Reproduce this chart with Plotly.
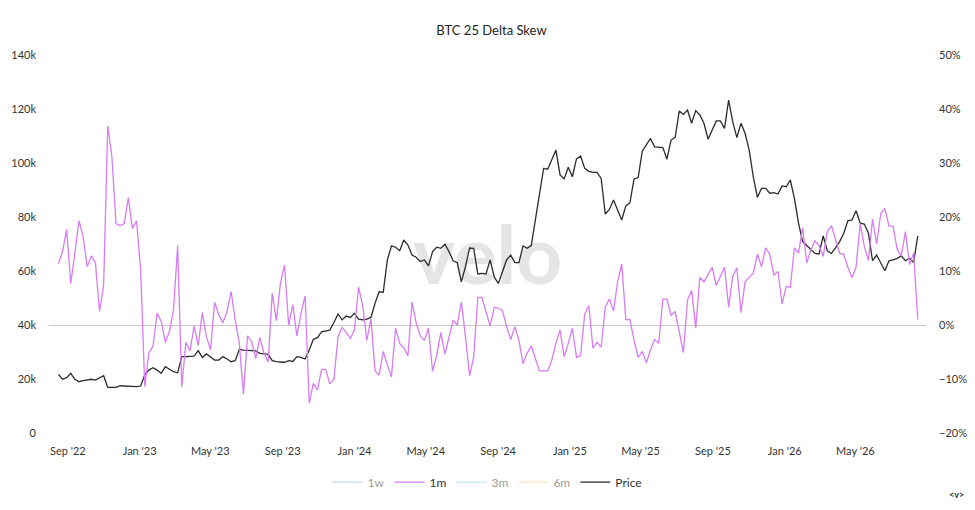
import pandas as pd
import numpy as np
import plotly.graph_objects as go

# weekly series, mid-Aug 2022 -> mid-Aug 2026
start_date = '2022-08-16'
end_date = '2026-08-15'

# BTC price, thousands of USD
price_k = [
    21.7, 19.9, 20.5, 22.1, 19.9, 19.0, 19.4, 19.6, 19.9, 19.6,
    20.5, 21.2, 16.9, 16.8, 16.9, 17.5, 17.4, 17.4, 17.3, 17.2,
    17.4, 21.5, 23.3, 24.2, 23.3, 22.1, 24.6, 23.7, 22.7, 22.3,
    28.3, 28.3, 28.5, 28.5, 30.5, 28.0, 29.3, 28.3, 27.0, 27.0,
    28.3, 27.4, 26.4, 26.8, 31.0, 30.7, 30.5, 30.5, 30.4, 29.5,
    29.3, 29.1,
    26.8, 26.4, 26.3, 26.2, 26.8, 26.5, 28.3, 28.0, 27.4, 30.7,
    34.7, 35.3, 37.5, 37.9, 38.1, 40.9, 44.1, 41.9, 43.3, 42.8,
    44.3, 42.2, 41.9, 42.2, 42.8, 48.0, 52.3, 52.1, 64.1, 69.3,
    68.8, 67.5, 71.5, 69.6, 65.9, 65.1, 63.5, 64.1, 61.9, 67.2,
    68.8, 68.4, 69.9, 67.2, 63.8, 63.1, 56.0, 61.6, 68.5, 68.4,
    58.9, 59.1,
    58.9, 64.1, 57.7, 55.4, 59.8, 64.1, 65.9, 63.1, 63.1, 69.3,
    68.4, 69.4, 78.9, 88.8, 98.0, 97.7, 101.1, 104.8, 95.6, 94.1,
    98.4, 94.9, 101.5, 102.6, 98.0, 96.9, 96.5, 96.5, 94.3, 81.1,
    82.8, 86.3, 82.6, 78.9, 84.1, 85.3, 94.1, 94.6, 104.4, 106.9,
    109.1, 106.0, 105.8, 105.7, 101.4, 108.5, 109.5, 119.3, 118.0, 119.6,
    114.7, 119.4, 117.8,
    114.7, 108.8, 112.2, 115.6, 115.6, 112.8, 123.3, 115.3, 109.4, 114.7,
    111.0, 104.8, 94.9, 87.3, 90.6, 90.6, 88.8, 89.0, 88.5, 91.5,
    91.2, 93.7, 86.9, 77.7, 70.9, 69.4, 68.1, 66.5, 66.3, 73.0,
    67.5, 66.5, 68.6, 70.9, 74.0, 78.6, 78.9, 82.3, 77.7, 77.4,
    74.0, 63.8, 65.9, 63.1, 60.1, 63.8, 64.1, 64.7, 65.6, 63.8,
    64.7, 63.2, 73.0,
]

# 1m 25 delta skew, %
skew_1m = [
    11.4, 13.6, 17.7, 7.7, 13.3, 19.3, 16.4, 10.8, 12.8, 11.5,
    2.5, 7.4, 36.9, 31.2, 18.8, 18.4, 18.8, 23.6, 17.9, 19.3,
    10.2, -11.4, -5.1, -4.0, 2.2, 0.7, -3.2, -1.2, 2.8, 14.7,
    -11.5, -3.2, -4.8, -0.2, -3.8, 2.3, -2.2, -4.6, 4.2, 1.9,
    0.4, 2.5, 6.2, 0.9, -3.4, -12.8, -2.0, -3.1, -6.2, -2.3,
    -5.2, -6.9,
    5.9, 0.8, 7.7, 11.1, -0.1, 3.8, -2.0, 2.2, 5.4, -14.5,
    -10.8, -12.0, -8.2, -8.2, -10.9, -10.1, -2.2, -0.4, -1.4, -2.5,
    -0.9, 7.0, 3.7, -2.9, 1.2, -8.5, -9.3, -4.9, -7.4, -9.6,
    -0.6, -3.4, -4.2, -5.7, 4.3, 0.4, -2.0, -2.9, -0.6, -8.6,
    -5.6, -1.4, -5.4, -2.2, 0.9, 0.0, 4.3, -2.2, -9.4, -5.9,
    5.1, 5.1,
    2.5, -0.2, 3.3, 3.1, 2.7, -0.3, -2.7, -0.3, -2.8, -7.2,
    -5.2, -3.9, -6.2, -8.5, -8.5, -8.5, -6.5, -3.4, -0.9, -5.9,
    -3.4, -0.6, -6.0, -5.6, 2.0, 3.6, -4.3, -3.2, -4.1, 3.4,
    4.8, 2.6, 8.0, 11.3, 1.0, 1.0, -2.9, -6.0, -4.9, -7.0,
    -4.6, -2.7, -3.4, 4.8, 4.8, 1.8, 2.5, -1.4, -5.1, 4.6,
    6.4, -0.6, 8.8,
    8.0, 9.3, 10.7, 7.3, 9.0, 10.7, 3.3, 9.0, 10.6, 2.3,
    8.0, 8.8, 9.6, 13.1, 10.8, 14.3, 13.1, 9.3, 9.9, 3.9,
    7.1, 7.0, 14.3, 13.3, 18.0, 11.5, 13.9, 15.6, 14.7, 12.7,
    17.3, 18.4, 15.7, 13.3, 13.1, 10.7, 8.8, 10.7, 18.8, 14.5,
    12.0, 19.6, 15.0, 20.6, 21.6, 18.3, 18.3, 14.0, 12.8, 17.3,
    11.2, 13.3, 1.0,
]

dates = pd.date_range(start_date, end_date, periods=len(price_k))
price = np.array(price_k) * 1000

font = 'Lato'
textColor = '#333333'
skewColors = {'1w': '#8fb0f5', '1m': '#d77cf4', '3m': '#7fd9ea', '6m': '#f6cf86'}
priceColor = '#2b2b2b'

fig = go.Figure()

for name in ['1w', '1m', '3m', '6m']:
    if name == '1m':
        fig.add_trace(go.Scatter(
            x=dates, y=skew_1m, name=name, yaxis='y2', mode='lines',
            line=dict(color=skewColors[name], width=1.3),
            hovertemplate='%{y:.1f}%<extra>1m</extra>'))
    else:
        # other tenors are switched off in the legend
        fig.add_trace(go.Scatter(
            x=[dates[0]], y=[None], name=name, yaxis='y2', mode='lines',
            line=dict(color=skewColors[name], width=1.3),
            visible='legendonly'))

fig.add_trace(go.Scatter(
    x=dates, y=price, name='Price', yaxis='y', mode='lines',
    line=dict(color=priceColor, width=1.3),
    hovertemplate='%{y:,.0f}<extra>Price</extra>'))

# watermark behind the lines
fig.add_shape(
    type='rect', xref='paper', yref='paper',
    x0=0.35, x1=0.65, y0=0.33, y1=0.63,
    layer='below', line_width=0, fillcolor='rgba(0,0,0,0)',
    label=dict(text='velo', textposition='middle center',
               font=dict(family=font, size=80, color='#e5e5e5', weight=700)))

fig.add_annotation(
    text='<b>&lt;v&gt;</b>', xref='paper', yref='paper',
    x=1.046, y=-0.183, showarrow=False,
    font=dict(family=font, size=9, color=textColor))

# page body has an 8px margin, so the figure is a bit smaller than the window
fig.update_layout(
    width=967, height=502,
    margin=dict(l=41, r=49, t=47, b=77, autoexpand=False),
    paper_bgcolor='white',
    plot_bgcolor='white',
    font=dict(family=font, size=11, color=textColor),
    title=dict(text='BTC 25 Delta Skew', x=0.5, xanchor='center',
               y=1 - 22 / 502, yanchor='middle', yref='container',
               font=dict(size=13, color='#222222')),
    showlegend=True,
    legend=dict(orientation='h', x=0.5, xanchor='center',
                y=-0.13, yanchor='middle',
                font=dict(size=12, color=textColor)),
    xaxis=dict(
        type='date', automargin=False,
        range=['2022-07-31', '2026-08-29'],
        tick0='2022-09-01', dtick='M4', tickformat="%b '%y",
        showgrid=False, zeroline=False, showline=False,
        ticks='', ticklabelstandoff=10),
    yaxis=dict(
        automargin=False,
        range=[0, 140000], dtick=20000, tickformat='~s',
        showgrid=False, zeroline=False, showline=False,
        ticks='', ticklabelstandoff=12),
    yaxis2=dict(
        overlaying='y', side='right', automargin=False,
        range=[-20, 50], dtick=10, ticksuffix='%',
        showgrid=False, zeroline=True, zerolinecolor='#c8c8c8',
        zerolinewidth=1, showline=False,
        ticks='', ticklabelstandoff=12),
)

fig.write_html('out.html')
